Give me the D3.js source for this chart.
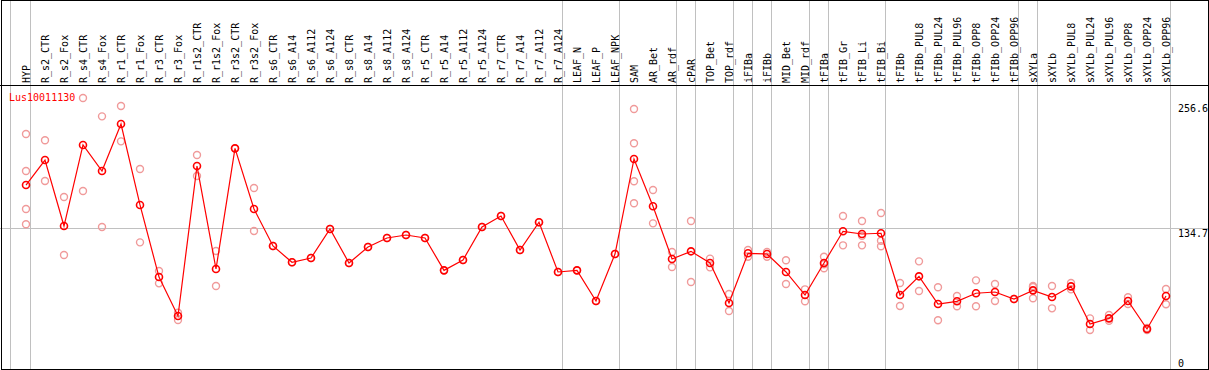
<!DOCTYPE html>
<html>
<head>
<meta charset="utf-8">
<script src="https://cdn.jsdelivr.net/npm/d3@7"></script>
<style>
    body { margin: 0; background: #fff; }
    text { font-family: "DejaVu Sans Mono", monospace; font-size: 10px; }
</style>
</head>
<body>
<div id="profile"></div>
<script>
const geneName = "Lus10011130";

const categories = ["HYP", "R_s2_CTR", "R_s2_Fox", "R_s4_CTR", "R_s4_Fox", "R_r1_CTR", "R_r1_Fox", "R_r3_CTR", "R_r3_Fox",
    "R_r1s2_CTR", "R_r1s2_Fox", "R_r3s2_CTR", "R_r3s2_Fox", "R_s6_CTR", "R_s6_A14", "R_s6_A112", "R_s6_A124",
    "R_s8_CTR", "R_s8_A14", "R_s8_A112", "R_s8_A124", "R_r5_CTR", "R_r5_A14", "R_r5_A112", "R_r5_A124",
    "R_r7_CTR", "R_r7_A14", "R_r7_A112", "R_r7_A124", "LEAF_N", "LEAF_P", "LEAF_NPK", "SAM", "AR_Bet", "AR_rdf",
    "cPAR", "TOP_Bet", "TOP_rdf", "iFIBa", "iFIBb", "MID_Bet", "MID_rdf", "tFIBa", "tFIB_Gr", "tFIB_Li", "tFIB_Bi",
    "tFIBb", "tFIBb_PUL8", "tFIBb_PUL24", "tFIBb_PUL96", "tFIBb_OPP8", "tFIBb_OPP24", "tFIBb_OPP96",
    "sXYLa", "sXYLb", "sXYLb_PUL8", "sXYLb_PUL24", "sXYLb_PUL96", "sXYLb_OPP8", "sXYLb_OPP24", "sXYLb_OPP96"];

const means = [176.2, 200.4, 136.5, 215.0, 189.8, 235.3, 156.9, 87.1, 49.4,
    194.6, 94.9, 211.7, 153.0, 117.2, 101.4, 105.5, 133.6,
    100.7, 116.2, 124.9, 127.8, 124.9, 93.6, 103.6, 135.6,
    146.2, 113.3, 140.2, 92.0, 93.6, 63.9, 109.4, 201.4, 155.6, 104.6,
    112.0, 100.7, 62.0, 110.1, 109.4, 92.0, 69.7, 100.7, 131.4, 128.8, 129.5,
    69.7, 87.8, 61.0, 63.6, 71.4, 72.6, 65.8,
    74.2, 67.8, 78.1, 41.6, 47.1, 63.9, 36.8, 68.7];

const replicates = [[225.6, 189.8, 153.0, 138.2], [219.5, 180.1], [164.6, 108.5], [260.5, 170.4], [242.7, 135.6],
    [252.7, 218.5], [191.7, 120.7], [93.0, 81.0], [52.6, 45.5],
    [205.3, 184.9], [112.3, 78.4], [211.7], [173.3, 131.7], [117.2], [101.4], [105.5], [133.6],
    [100.7], [116.2], [124.9], [127.8], [124.9], [93.6], [103.6], [135.6],
    [146.2], [113.3], [140.2], [92.0], [93.6], [63.9], [109.4], [249.8, 216.6, 179.8, 158.5], [171.4, 139.1], [111.4, 96.8],
    [141.4, 82.3], [104.9, 96.5], [70.7, 54.2], [113.3, 106.8], [111.4, 106.8], [103.3, 80.4], [75.2, 63.6],
    [106.8, 99.5, 95.6], [146.2, 117.8], [141.4, 127.0, 117.8], [149.1, 122.3, 116.9],
    [81.3, 59.1], [102.3, 73.6], [77.2, 45.2], [68.7, 58.8], [83.9, 58.8], [80.4, 63.9], [65.8],
    [78.4, 77.5, 66.5], [78.4, 56.8], [81.3, 75.2], [47.1, 35.8], [50.4, 44.8], [67.5, 61.0], [37.8, 35.8], [75.5, 60.7]];

const tickValues = [0, 134.7, 256.6];
const gridValues = [134.7];
// group separators are drawn right after these samples
const groupEnds = ["HYP", "R_r7_A124", "LEAF_NPK", "AR_rdf", "cPAR", "TOP_rdf", "iFIBa", "iFIBb", "MID_rdf",
    "tFIBa", "tFIB_Bi", "tFIBb_OPP96", "sXYLa", "sXYLb_OPP96"];

class profileChart {
    constructor() {
        this.width = 1209;
        this.height = 370;
        this.headerBottom = 85;

        this.x = d3.scalePoint().domain(categories).range([26, 1166]);
        this.y = d3.scaleLinear().domain([0, 256.6]).range([367, 102]);

        this.svg = d3.select("#profile").append("svg")
            .attr("width", this.width)
            .attr("height", this.height);
    }

    draw() {
        let svg = this.svg;
        let x = this.x, y = this.y;
        let crisp = v => Math.floor(v) + 0.5;

        // vertical group lines, full height
        let sepX = [x(categories[0]) - 15.3].concat(groupEnds.map(c => x(c) + 4.7));
        svg.append("g").selectAll("line").data(sepX).enter().append("line")
            .attr("x1", d => crisp(d)).attr("x2", d => crisp(d))
            .attr("y1", 0).attr("y2", this.height)
            .attr("stroke", "#c0c0c0").attr("stroke-width", 1);

        // horizontal grid
        svg.append("g").selectAll("line").data(gridValues).enter().append("line")
            .attr("x1", 0).attr("x2", this.width)
            .attr("y1", d => Math.round(y(d)) + 0.5).attr("y2", d => Math.round(y(d)) + 0.5)
            .attr("stroke", "#c0c0c0").attr("stroke-width", 1);

        // header separator
        svg.append("line")
            .attr("x1", 0).attr("x2", this.width)
            .attr("y1", this.headerBottom + 0.5).attr("y2", this.headerBottom + 0.5)
            .attr("stroke", "black");

        // sample labels (vertical)
        svg.append("g").selectAll("text").data(categories).enter().append("text")
            .attr("transform", d => "translate(" + (Math.round(x(d)) + 4) + "," + (this.headerBottom - 2) + ") rotate(-90)")
            .attr("fill", "black")
            .text(d => d);

        // right value axis
        let axis = d3.axisRight(y).tickValues(tickValues).tickSize(0).tickPadding(0)
            .tickFormat(d => d === 0 ? "0" : d3.format(".1f")(d));
        let axisG = svg.append("g").attr("transform", "translate(1178,0)").call(axis);
        axisG.select(".domain").remove();
        axisG.selectAll("text")
            .attr("x", 0)
            .attr("dy", d => d === 0 ? "-0.1em" : "0.9em")
            .attr("fill", "black")
            .style("font-family", "DejaVu Sans Mono, monospace")
            .style("font-size", "10px");

        // replicate points
        let repData = [];
        replicates.forEach((vals, i) => vals.forEach(v => repData.push({ c: categories[i], v: v })));
        svg.append("g").selectAll("circle").data(repData).enter().append("circle")
            .attr("cx", d => x(d.c)).attr("cy", d => y(d.v))
            .attr("r", 3.5)
            .attr("fill", "none")
            .attr("stroke", "#f09a9a")
            .attr("stroke-width", 1.4);

        // mean line
        let line = d3.line().x((d, i) => x(categories[i])).y(d => y(d));
        svg.append("path").datum(means)
            .attr("d", line)
            .attr("fill", "none")
            .attr("stroke", "red")
            .attr("stroke-width", 1.2);

        svg.append("g").selectAll("circle").data(means).enter().append("circle")
            .attr("cx", (d, i) => x(categories[i])).attr("cy", d => y(d))
            .attr("r", 3.5)
            .attr("fill", "none")
            .attr("stroke", "red")
            .attr("stroke-width", 1.6);

        // gene name
        svg.append("text")
            .attr("x", 9).attr("y", 101)
            .attr("fill", "red")
            .text(geneName);

        // outer frame
        svg.append("rect")
            .attr("x", 1.5).attr("y", 0.5)
            .attr("width", 1207).attr("height", 369)
            .attr("fill", "none")
            .attr("stroke", "black");
    }
}

let chart = new profileChart();
chart.draw();
</script>
</body>
</html>
